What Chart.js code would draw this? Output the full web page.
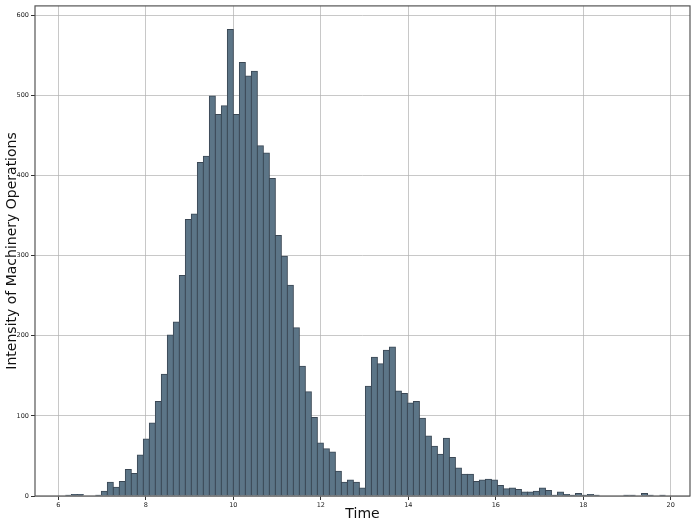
<!DOCTYPE html>
<html><head><meta charset="utf-8">
<script src="https://cdn.jsdelivr.net/npm/chart.js@4.4.0/dist/chart.umd.min.js"></script>
<style>html,body{margin:0;padding:0;background:#fff;}#wrap{width:700px;height:526px;}</style>
</head><body><div id="wrap"><canvas id="c" width="700" height="526"></canvas></div>
<script>
const binStart = 6.16;
const binWidth = 0.1372;
const counts = [1,2,2,0,0,1,6,17,11,18,
  33,28,51,71,91,118,152,201,217,275,
  345,352,416,424,499,476,487,582,476,541,
  524,530,437,428,396,325,299,263,210,162,
  130,98,66,59,55,31,17,20,17,10,
  137,173,165,182,186,131,128,116,118,97,
  75,62,52,72,48,35,27,27,18,20,
  21,20,13,9,10,8,5,5,6,10,
  7,1,5,2,1,3,1,2,1,0,
  0,0,0,1,1,0,3,1,0,1];
const xTicks = [6,8,10,12,14,16,18,20];
const yTicks = [0,100,200,300,400,500,600];
const xTitle = 'Time';
const yTitle = 'Intensity of Machinery Operations';

const points = counts.map((c, i) => ({x: binStart + (i + 0.5) * binWidth, y: c}));

const framePlugin = {
  id: 'frame',
  afterDraw(chart) {
    const {ctx, chartArea: a} = chart;
    ctx.save();
    ctx.strokeStyle = '#555';
    ctx.lineWidth = 1.2;
    ctx.strokeRect(a.left, a.top, a.right - a.left, a.bottom - a.top);
    ctx.restore();
  }
};

const tickFont = {family: 'DejaVu Sans', size: 6.5};
const titleFont = {family: 'DejaVu Sans', size: 14};

new Chart(document.getElementById('c'), {
  type: 'bar',
  data: {
    datasets: [{
      data: points,
      backgroundColor: 'rgb(92,117,135)',
      borderColor: '#3b4855',
      borderWidth: {top: 1, left: 1, right: 1, bottom: 0},
      barPercentage: 1,
      categoryPercentage: 1,
      inflateAmount: 0.5
    }]
  },
  options: {
    responsive: false,
    devicePixelRatio: 1,
    animation: false,
    layout: {padding: {left: 0, right: 10, top: 4, bottom: 0}},
    plugins: {legend: {display: false}, tooltip: {enabled: false}},
    scales: {
      x: {
        type: 'linear',
        min: 5.467,
        max: 20.44,
        offset: false,
        z: 1,
        afterBuildTicks: s => { s.ticks = xTicks.map(v => ({value: v})); },
        afterFit: s => { s.height = 30; },
        grid: {offset: false, color: 'rgba(176,176,176,0.7)', lineWidth: 1, tickColor: '#333', tickLength: 4},
        border: {display: false},
        ticks: {font: tickFont, color: '#222', padding: 1, maxRotation: 0, autoSkip: false},
        title: {display: true, text: xTitle, font: titleFont, color: '#111', padding: {top: 0, bottom: 3}}
      },
      y: {
        min: 0,
        max: 611.5,
        z: 1,
        afterBuildTicks: s => { s.ticks = yTicks.map(v => ({value: v})); },
        afterFit: s => { s.width = 35; },
        grid: {color: 'rgba(176,176,176,0.7)', lineWidth: 1, tickColor: '#333', tickLength: 4},
        border: {display: false},
        ticks: {font: tickFont, color: '#222', padding: 2, autoSkip: false},
        title: {display: true, text: yTitle, font: titleFont, color: '#111', padding: {top: 4, bottom: 0}}
      }
    }
  },
  plugins: [framePlugin]
});
</script>
</body></html>
